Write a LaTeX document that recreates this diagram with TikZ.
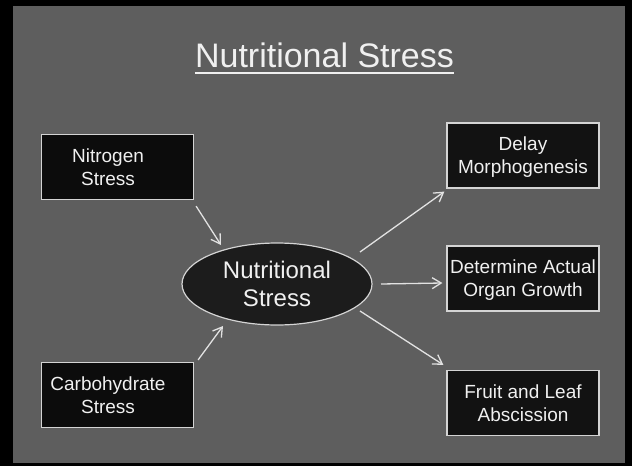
\documentclass[tikz,border=0pt]{standalone}
\usepackage{fontspec}
\setmainfont{Liberation Sans}
\usetikzlibrary{arrows.meta,shapes.geometric,calc}
\definecolor{bgcol}{HTML}{5E5E5E}
\definecolor{boxfill}{HTML}{0C0C0C}
\definecolor{boxfillr}{HTML}{121212}
\definecolor{ellfill}{HTML}{1C1C1C}
\definecolor{edgecol}{HTML}{D4D4D4}
\definecolor{txtcol}{HTML}{F0F0F0}
\definecolor{arrcol}{HTML}{E2E2E2}
\begin{document}
\begin{tikzpicture}[x=1pt,y=-1pt,
  boxnode/.style={draw=edgecol, line width=1.2pt, fill=boxfill, text=txtcol,
    font=\fontsize{19}{23}\selectfont, align=center, inner sep=0pt,
    text depth=0pt, minimum width=152pt, minimum height=65pt},
  rbox/.style={boxnode, fill=boxfillr},
  ellnode/.style={ellipse, draw=edgecol, line width=1.2pt, fill=ellfill, text=txtcol,
    font=\fontsize{24}{28}\selectfont, align=center, inner sep=0pt,
    text depth=0pt, minimum width=190pt, minimum height=82pt},
  arr/.style={draw=arrcol, line width=1.3pt, -{Straight Barb[length=9pt,width=11pt]}}
]
\useasboundingbox (0,0) rectangle (632,466);
\fill[black] (0,0) rectangle (632,466);
\fill[bgcol] (13,6) rectangle (625,463);

% title
\node[anchor=base, font=\fontsize{34}{40}\selectfont, text=txtcol, inner sep=0pt] (title) at (324.5,67) {Nutritional Stress};
\draw[txtcol, line width=2.5pt] ([shift={(0,6)}]title.base west) -- ([shift={(0,6)}]title.base east);

% nodes
\node[boxnode] (nit) at (117.5,167) {Nitrogen\hspace*{19pt}\\Stress\hspace*{19pt}};
\node[boxnode] (carb) at (117.5,395) {Carbohydrate\hspace*{19pt}\\Stress\hspace*{19pt}};
\node[ellnode] (ell) at (277,284) {Nutritional\\Stress};
\node[rbox] (del) at (523,155.5) {Delay\\Morphogenesis};
\node[rbox] (det) at (523,278.5) {Determine Actual\\Organ Growth};
\node[rbox] (fru) at (523,403) {Fruit and Leaf\\Abscission};

% connectors
\draw[arr] ([shift={(2,6)}]nit.south east) -- ([shift={(-56,-39)}]ell.center);
\draw[arr] ([shift={(4,-2)}]carb.north east) -- ([shift={(-54,42)}]ell.center);
\draw[arr] ([shift={(83,-32)}]ell.center) -- ([shift={(-2,3)}]del.south west);
\draw[arr] ([shift={(104,0)}]ell.center) -- ([shift={(-4,4.5)}]det.west);
\draw[arr] ([shift={(83,27)}]ell.center) -- ([shift={(-3,-5)}]fru.north west);
\end{tikzpicture}
\end{document}
